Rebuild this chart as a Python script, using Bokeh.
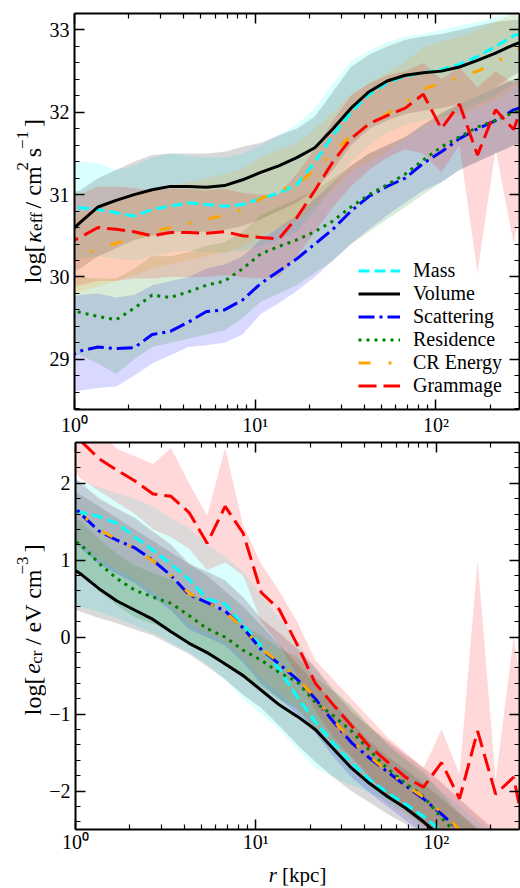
import math
from bokeh.plotting import figure
from bokeh.models import (FixedTicker, LinearAxis, LogAxis, Range1d, Label,
                          Legend, LegendItem, CustomJSTickFormatter)
from bokeh.layouts import column, row
from bokeh.embed import file_html
from bokeh.resources import INLINE

FONT = "Liberation Serif"

# ---------------- data ----------------
r_kpc = [0.851, 1.072, 1.349, 1.698, 2.138, 2.692, 3.388, 4.266, 5.370, 6.761,
         8.511, 10.72, 13.49, 16.98, 21.38, 26.92, 33.88, 42.66, 53.70, 67.61,
         85.11, 107.2, 134.9, 169.8, 213.8, 269.2, 338.8]

series_names = ["Mass", "Volume", "Scattering", "Residence", "CR Energy", "Grammage"]

# top panel: log kappa_eff
k_mass = [30.84, 30.84, 30.82, 30.78, 30.74, 30.82, 30.86, 30.90, 30.88, 30.86, 30.88, 30.95, 31.02, 31.12, 31.40, 31.72, 32.00, 32.22, 32.36, 32.44, 32.48, 32.52, 32.58, 32.68, 32.80, 32.93, 33.00]
k_mass_lo = [30.20, 30.22, 30.25, 30.22, 30.20, 30.25, 30.30, 30.32, 30.30, 30.30, 30.32, 30.38, 30.45, 30.55, 30.80, 31.10, 31.40, 31.60, 31.75, 31.85, 31.90, 31.95, 32.00, 32.10, 32.20, 32.35, 32.45]
k_mass_hi = [31.42, 31.40, 31.38, 31.30, 31.35, 31.45, 31.50, 31.47, 31.45, 31.45, 31.50, 31.60, 31.72, 31.85, 32.05, 32.35, 32.62, 32.75, 32.85, 32.92, 32.95, 33.00, 33.05, 33.10, 33.15, 33.20, 33.25]

k_vol = [30.45, 30.66, 30.85, 30.93, 31.00, 31.06, 31.10, 31.10, 31.09, 31.11, 31.18, 31.27, 31.35, 31.45, 31.57, 31.80, 32.05, 32.25, 32.38, 32.45, 32.48, 32.50, 32.55, 32.63, 32.72, 32.82, 32.90]
k_vol_lo = [30.00, 30.10, 30.25, 30.35, 30.45, 30.50, 30.55, 30.55, 30.55, 30.57, 30.62, 30.70, 30.80, 30.90, 31.05, 31.30, 31.60, 31.80, 31.90, 31.98, 32.02, 32.05, 32.10, 32.20, 32.30, 32.45, 32.55]
k_vol_hi = [31.00, 31.05, 31.20, 31.30, 31.40, 31.48, 31.50, 31.50, 31.50, 31.52, 31.58, 31.63, 31.72, 31.80, 31.95, 32.25, 32.55, 32.70, 32.80, 32.88, 32.92, 32.95, 33.00, 33.05, 33.10, 33.12, 33.15]

k_scat = [28.98, 29.10, 29.15, 29.13, 29.14, 29.30, 29.34, 29.45, 29.58, 29.60, 29.72, 29.92, 30.07, 30.22, 30.40, 30.58, 30.80, 30.98, 31.10, 31.20, 31.38, 31.52, 31.68, 31.80, 31.90, 32.03, 32.10]
k_scat_lo = [28.58, 28.62, 28.65, 28.67, 28.80, 28.95, 29.05, 29.15, 29.17, 29.20, 29.30, 29.55, 29.68, 29.83, 30.00, 30.20, 30.40, 30.58, 30.75, 30.90, 31.05, 31.15, 31.30, 31.40, 31.50, 31.60, 31.65]
k_scat_hi = [29.75, 29.78, 29.80, 29.75, 29.78, 29.90, 29.95, 30.00, 30.10, 30.15, 30.25, 30.45, 30.60, 30.75, 30.95, 31.15, 31.35, 31.50, 31.60, 31.70, 31.85, 31.98, 32.10, 32.20, 32.30, 32.40, 32.45]

k_res = [29.60, 29.57, 29.52, 29.48, 29.62, 29.78, 29.75, 29.82, 29.90, 29.95, 30.10, 30.28, 30.37, 30.45, 30.55, 30.68, 30.85, 31.00, 31.12, 31.25, 31.42, 31.58, 31.70, 31.82, 31.90, 32.00, 32.08]
k_res_lo = [29.10, 29.05, 28.95, 28.82, 29.00, 29.15, 29.20, 29.25, 29.30, 29.35, 29.50, 29.70, 29.80, 29.90, 30.05, 30.20, 30.40, 30.55, 30.70, 30.85, 31.00, 31.15, 31.30, 31.40, 31.50, 31.60, 31.65]
k_res_hi = [30.05, 30.00, 29.98, 29.98, 30.10, 30.25, 30.25, 30.30, 30.38, 30.42, 30.55, 30.75, 30.85, 30.95, 31.05, 31.20, 31.35, 31.50, 31.60, 31.70, 31.85, 32.00, 32.10, 32.20, 32.30, 32.40, 32.45]

k_cre = [30.20, 30.28, 30.33, 30.41, 30.48, 30.55, 30.60, 30.65, 30.70, 30.75, 30.82, 30.95, 31.05, 31.12, 31.30, 31.50, 31.72, 31.85, 31.98, 32.12, 32.28, 32.36, 32.42, 32.50, 32.60, 32.75, 32.85]
k_cre_lo = [29.75, 29.82, 29.88, 29.95, 30.02, 30.10, 30.15, 30.20, 30.25, 30.30, 30.37, 30.50, 30.60, 30.68, 30.85, 31.05, 31.27, 31.40, 31.53, 31.67, 31.83, 31.90, 31.97, 32.05, 32.15, 32.30, 32.40]
k_cre_hi = [30.70, 30.78, 30.83, 30.91, 30.98, 31.05, 31.10, 31.15, 31.20, 31.25, 31.32, 31.45, 31.55, 31.62, 31.80, 32.00, 32.22, 32.35, 32.48, 32.62, 32.78, 32.86, 32.92, 33.00, 33.10, 33.20, 33.30]

k_gram = [30.37, 30.48, 30.60, 30.58, 30.55, 30.50, 30.54, 30.54, 30.53, 30.55, 30.50, 30.48, 30.46, 30.72, 31.05, 31.40, 31.68, 31.86, 31.96, 32.05, 32.22, 31.80, 32.10, 31.48, 32.03, 31.79, 32.40]
k_gram_lo = [29.85, 29.90, 29.95, 29.95, 29.98, 29.98, 30.00, 30.00, 30.00, 30.02, 30.00, 29.98, 30.00, 30.25, 30.55, 30.85, 31.10, 31.30, 31.45, 31.55, 31.50, 31.27, 31.60, 30.05, 31.55, 30.40, 31.50]
k_gram_hi = [30.95, 31.00, 31.10, 31.10, 31.08, 31.05, 31.07, 31.07, 31.05, 31.07, 31.02, 31.00, 31.00, 31.25, 31.55, 31.90, 32.20, 32.35, 32.45, 32.50, 32.60, 32.40, 32.55, 32.30, 32.50, 32.35, 32.70]

# bottom panel: log e_cr
e_mass = [1.75, 1.62, 1.57, 1.48, 1.30, 1.13, 0.95, 0.75, 0.50, 0.43, 0.16, -0.12, -0.42, -0.78, -1.10, -1.38, -1.63, -1.85, -2.02, -2.17, -2.33, -2.52, -2.75, -2.95, -3.15, -3.35, -3.55]
e_mass_lo = [0.45, 0.40, 0.33, 0.25, 0.15, 0.05, -0.07, -0.20, -0.35, -0.55, -0.80, -1.00, -1.20, -1.45, -1.70, -1.82, -1.92, -2.02, -2.15, -2.30, -2.45, -2.60, -2.80, -3.00, -3.20, -3.40, -3.60]
e_mass_hi = [2.10, 2.02, 1.95, 1.87, 1.80, 1.70, 1.55, 1.42, 1.20, 1.05, 0.85, 0.55, 0.25, -0.05, -0.40, -0.65, -0.90, -1.15, -1.40, -1.60, -1.80, -2.00, -2.20, -2.40, -2.60, -2.80, -3.00]

e_vol = [0.97, 0.82, 0.63, 0.47, 0.35, 0.23, 0.07, -0.08, -0.20, -0.35, -0.50, -0.69, -0.88, -1.03, -1.20, -1.45, -1.70, -1.90, -2.07, -2.22, -2.40, -2.60, -2.80, -3.00, -3.20, -3.40, -3.60]
e_vol_lo = [0.40, 0.33, 0.25, 0.18, 0.10, 0.02, -0.10, -0.22, -0.38, -0.55, -0.75, -0.92, -1.15, -1.40, -1.62, -1.82, -2.00, -2.15, -2.30, -2.43, -2.58, -2.75, -2.95, -3.15, -3.35, -3.55, -3.75]
e_vol_hi = [1.95, 1.85, 1.70, 1.55, 1.40, 1.25, 1.10, 0.95, 0.80, 0.60, 0.40, 0.15, -0.10, -0.35, -0.60, -0.85, -1.10, -1.35, -1.55, -1.72, -1.90, -2.10, -2.30, -2.50, -2.70, -2.90, -3.10]

e_scat = [1.85, 1.60, 1.38, 1.26, 1.16, 1.00, 0.80, 0.55, 0.45, 0.34, 0.12, -0.16, -0.35, -0.55, -0.80, -1.10, -1.37, -1.57, -1.75, -1.93, -2.10, -2.30, -2.51, -2.72, -2.92, -3.12, -3.32]
e_scat_lo = [1.40, 1.15, 0.95, 0.82, 0.70, 0.52, 0.35, 0.10, 0.00, -0.11, -0.33, -0.61, -0.80, -1.00, -1.25, -1.55, -1.82, -2.02, -2.20, -2.38, -2.55, -2.75, -2.96, -3.17, -3.37, -3.57, -3.77]
e_scat_hi = [2.25, 2.00, 1.80, 1.67, 1.55, 1.37, 1.20, 0.95, 0.85, 0.74, 0.52, 0.24, 0.05, -0.15, -0.40, -0.70, -0.97, -1.17, -1.35, -1.53, -1.70, -1.90, -2.11, -2.32, -2.52, -2.72, -2.92]

e_res = [1.35, 1.20, 0.96, 0.76, 0.61, 0.52, 0.44, 0.28, 0.11, 0.00, -0.17, -0.30, -0.46, -0.58, -0.85, -1.02, -1.22, -1.47, -1.71, -1.90, -2.07, -2.35, -2.60, -2.80, -3.00, -3.20, -3.40]
e_res_lo = [1.00, 0.85, 0.61, 0.41, 0.26, 0.17, 0.09, -0.07, -0.24, -0.35, -0.52, -0.65, -0.81, -0.93, -1.20, -1.37, -1.57, -1.82, -2.06, -2.25, -2.42, -2.70, -2.95, -3.15, -3.35, -3.55, -3.75]
e_res_hi = [1.65, 1.50, 1.28, 1.08, 0.93, 0.83, 0.75, 0.60, 0.43, 0.32, 0.15, 0.02, -0.14, -0.26, -0.52, -0.70, -0.90, -1.15, -1.39, -1.58, -1.75, -2.03, -2.28, -2.48, -2.68, -2.88, -3.08]

e_cre = [1.80, 1.60, 1.40, 1.27, 1.15, 0.99, 0.80, 0.57, 0.45, 0.33, 0.12, -0.15, -0.33, -0.53, -0.79, -1.08, -1.34, -1.55, -1.74, -1.92, -2.08, -2.28, -2.50, -2.70, -2.90, -3.10, -3.30]
e_cre_lo = [1.40, 1.20, 1.02, 0.88, 0.75, 0.58, 0.40, 0.17, 0.05, -0.07, -0.28, -0.55, -0.73, -0.93, -1.19, -1.48, -1.74, -1.95, -2.14, -2.32, -2.48, -2.68, -2.90, -3.10, -3.30, -3.50, -3.70]
e_cre_hi = [2.20, 2.00, 1.82, 1.68, 1.55, 1.38, 1.20, 0.97, 0.85, 0.73, 0.52, 0.25, 0.07, -0.13, -0.39, -0.68, -0.94, -1.15, -1.34, -1.52, -1.68, -1.88, -2.10, -2.30, -2.50, -2.70, -2.90]

e_gram = [2.75, 2.55, 2.32, 2.17, 2.03, 1.86, 1.83, 1.62, 1.22, 1.70, 1.35, 0.58, 0.36, -0.10, -0.60, -0.88, -1.15, -1.42, -1.62, -1.82, -1.95, -1.63, -2.10, -1.22, -2.04, -1.82, -3.00]
e_gram_lo = [2.30, 2.06, 1.90, 1.75, 1.60, 1.40, 1.30, 1.15, 0.87, 0.97, 0.80, 0.20, -0.10, -0.50, -0.95, -1.30, -1.55, -1.80, -2.05, -2.25, -2.45, -2.60, -2.80, -2.90, -3.00, -3.10, -3.20]
e_gram_hi = [3.20, 2.95, 2.70, 2.45, 2.35, 2.25, 2.46, 2.00, 1.58, 2.46, 1.45, 0.95, 0.60, 0.20, -0.30, -0.55, -0.80, -1.05, -1.30, -1.50, -1.70, -1.20, -1.78, 1.00, -1.85, 0.00, -1.50]

top_series = [(k_mass, k_mass_lo, k_mass_hi), (k_vol, k_vol_lo, k_vol_hi),
              (k_scat, k_scat_lo, k_scat_hi), (k_res, k_res_lo, k_res_hi),
              (k_cre, k_cre_lo, k_cre_hi), (k_gram, k_gram_lo, k_gram_hi)]
bot_series = [(e_mass, e_mass_lo, e_mass_hi), (e_vol, e_vol_lo, e_vol_hi),
              (e_scat, e_scat_lo, e_scat_hi), (e_res, e_res_lo, e_res_hi),
              (e_cre, e_cre_lo, e_cre_hi), (e_gram, e_gram_lo, e_gram_hi)]

# ---------------- styles ----------------
colors = ["#00ffff", "#000000", "#0000ff", "#008000", "#ffa500", "#ff0000"]
dashes = ["11 5", "solid", "16 5 3 5", "3 5", "12 18 3 18", "18 7"]
BAND_ALPHA = 0.15
LW = 3
TICK_FS = "20px"

x_major = [1, 10, 100]
x_minor = [m * d for d in (1, 10, 100) for m in range(2, 10) if m * d <= 300]

# approximate Times metrics (em) for stacking composite labels
W = {'l': .278, 'o': .5, 'g': .5, '[': .333, ']': .333, ' ': .25, 'κ': .55,
     'e': .444, 'f': .333, '/': .278, 'c': .444, 'm': .778, '2': .5, 's': .389,
     '−': .564, '1': .5, 'V': .722, 'r': .39, '3': .5, 'k': .5, 'p': .5}


def tw(t, size):
    return sum(W.get(ch, .5) for ch in t) * size


def stacked(p, pieces, base, center, vertical):
    total = sum(tw(t, s) for t, s, _, _ in pieces)
    pos = center - total / 2
    for t, s, shift, style in pieces:
        lead = len(t) - len(t.lstrip(" "))
        pos += tw(" " * lead, s)
        txt = t.strip(" ")
        if vertical:
            lab = Label(x=base + shift, y=pos, angle=math.pi / 2)
        else:
            lab = Label(x=pos, y=base + shift, angle=0)
        lab.text = txt
        lab.text_font = FONT
        lab.text_font_size = f"{s}px"
        lab.text_font_style = style
        lab.text_color = "black"
        lab.text_align = "left"
        lab.text_baseline = "alphabetic"
        p.add_layout(lab)
        pos += tw(t.lstrip(" "), s)


def label_fig(w, h):
    f = figure(width=w, height=h, x_range=Range1d(0, w), y_range=Range1d(0, h),
               x_axis_location=None, y_axis_location=None, min_border=0, title=None,
               output_backend="svg", toolbar_location=None)
    f.outline_line_color = None
    f.xgrid.visible = False
    f.ygrid.visible = False
    f.background_fill_color = "white"
    f.border_fill_color = "white"
    return f


def style_axis(ax, label_size=TICK_FS):
    ax.axis_line_width = 2
    ax.axis_line_color = "black"
    ax.major_tick_in = 10
    ax.major_tick_out = 0
    ax.minor_tick_in = 5
    ax.minor_tick_out = 0
    ax.major_tick_line_width = 1.5
    ax.minor_tick_line_width = 1.2
    ax.major_tick_line_color = "black"
    ax.minor_tick_line_color = "black"
    ax.major_label_text_font = FONT
    ax.major_label_text_font_size = label_size
    ax.major_label_text_color = "black"


def make_panel(series, yr, yticks, yminor, w, h, mbl, mbt, mbb, xstand, legend=False):
    p = figure(x_axis_type="log", x_range=Range1d(1, 290), y_range=Range1d(*yr),
               width=w, height=h,
               min_border_left=mbl, min_border_right=1, min_border_top=mbt,
               min_border_bottom=mbb, output_backend="svg", toolbar_location=None)
    p.grid.visible = False
    p.outline_line_color = None
    p.background_fill_color = "white"
    p.border_fill_color = "white"

    xt = FixedTicker(ticks=x_major, minor_ticks=x_minor)
    yt = FixedTicker(ticks=yticks, minor_ticks=yminor)
    xfmt = CustomJSTickFormatter(code="const s = ['⁰','¹','²','³']; return '10' + s[Math.round(Math.log10(tick))];")
    yfmt = CustomJSTickFormatter(code="return tick < 0 ? '−' + Math.abs(tick) : String(tick);")

    p.xaxis.ticker = xt
    p.xaxis.formatter = xfmt
    p.xaxis.major_label_standoff = xstand
    p.yaxis.ticker = yt
    p.yaxis.formatter = yfmt
    p.yaxis.major_label_standoff = 5
    for ax in p.xaxis + p.yaxis:
        style_axis(ax)

    blank = "return '';"
    right = LinearAxis(ticker=yt, formatter=CustomJSTickFormatter(code=blank),
                       major_label_standoff=0)
    top = LogAxis(ticker=xt, formatter=CustomJSTickFormatter(code=blank),
                  major_label_standoff=0)
    style_axis(right, "0px")
    style_axis(top, "0px")
    p.add_layout(right, "right")
    p.add_layout(top, "above")

    for (y, lo, hi), c in zip(series, colors):
        p.varea(x=r_kpc, y1=lo, y2=hi, fill_color=c, fill_alpha=BAND_ALPHA)
    renderers = []
    for (y, lo, hi), c, d in zip(series, colors, dashes):
        rl = p.line(x=r_kpc, y=y, line_color=c, line_width=LW, line_dash=d)
        renderers.append(rl)

    if legend:
        items = [LegendItem(label=n, renderers=[r]) for n, r in zip(series_names, renderers)]
        leg = Legend(items=items, location=(284, 12))
        leg.background_fill_alpha = 0
        leg.border_line_color = None
        leg.label_text_font = FONT
        leg.label_text_font_size = "20px"
        leg.label_text_color = "black"
        leg.glyph_width = 42
        leg.glyph_height = 21
        leg.label_height = 21
        leg.label_standoff = 13
        leg.spacing = 0
        leg.padding = 0
        leg.margin = 0
        p.add_layout(leg)
    return p


k_ticks = [29, 30, 31, 32, 33]
k_minor = [round(28.4 + 0.2 * i, 1) for i in range(25)]
e_ticks = [-2, -1, 0, 1, 2]
e_minor = [round(-2.4 + 0.2 * i, 1) for i in range(25)]

LABW = 46
H1, H2, H3 = 438, 417, 31
p1 = make_panel(top_series, (28.39, 33.2), k_ticks, k_minor, 520 - LABW, H1, 71 - LABW, 13, 27, 4, legend=True)
p2 = make_panel(bot_series, (-2.5, 2.53), e_ticks, e_minor, 520 - LABW, H2, 73 - LABW, 4, 24, 1)

ylab1 = label_fig(LABW, H1)
ylab2 = label_fig(LABW, H2)
xlab = label_fig(520, H3)

stacked(ylab1, [("log[ ", 24, 0, "normal"), ("κ", 24, 0, "italic"), ("eff", 17, 4, "normal"),
                (" / cm", 24, 0, "normal"), ("2", 17, -10, "normal"), (" s", 24, 0, "normal"),
                ("−1", 17, -10, "normal"), (" ]", 24, 0, "normal")],
        base=32, center=230, vertical=True)
stacked(ylab2, [("log[ ", 24, 0, "normal"), ("e", 24, 0, "italic"), ("cr", 17, 4, "normal"),
                (" / eV cm", 24, 0, "normal"), ("−3", 17, -10, "normal"), (" ]", 24, 0, "normal")],
        base=32, center=215, vertical=True)
stacked(xlab, [("r", 21, 0, "italic"), (" [kpc]", 21, 0, "normal")],
        base=12, center=297, vertical=False)

layout = column(row(ylab1, p1, spacing=0), row(ylab2, p2, spacing=0), xlab, spacing=0)
open("out.html", "w").write(file_html(layout, INLINE))
